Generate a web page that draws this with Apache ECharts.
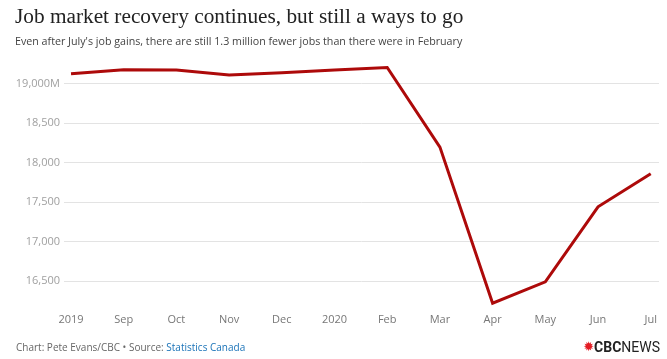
<!DOCTYPE html>
<html>
<head>
<meta charset="utf-8">
<script src="https://cdn.jsdelivr.net/npm/echarts@6/dist/echarts.min.js"></script>
<style>
html,body{margin:0;padding:0;background:#fff;}
#c{width:667px;height:359px;}
</style>
</head>
<body>
<div id="c"></div>
<script>
var categories = ['2019','Sep','Oct','Nov','Dec','2020','Feb','Mar','Apr','May','Jun','Jul'];
var employment = [19123,19173,19170,19106,19135,19170,19203,18195,16218,16490,17439,17857];
var yTicks = [16500,17000,17500,18000,18500,19000];

var chart = echarts.init(document.getElementById('c'), null, {renderer:'canvas'});
var pts = employment.map(function(v,i){return [i,v];});
chart.setOption({
  backgroundColor:'#ffffff',
  animation:false,
  title:[{
    text:'Job market recovery continues, but still a ways to go',
    left:10, top:2,
    textStyle:{fontFamily:'Liberation Serif',fontSize:21.3,fontWeight:'normal',color:'#222'}
  },{
    text:'Even after July\'s job gains, there are still 1.3 million fewer jobs than there were in February',
    left:10, top:31,
    textStyle:{fontFamily:'Open Sans',fontSize:10.7,fontWeight:'normal',color:'#444'}
  }],
  graphic:[{
    type:'text', left:16, top:343,
    style:{
      text:'{a|Chart: Pete Evans/CBC \u2022 Source: }{b|Statistics Canada}',
      rich:{
        a:{fontFamily:'Open Sans',fontSize:10,fill:'#666'},
        b:{fontFamily:'Open Sans',fontSize:10,fill:'#1a73b8'}
      }
    }
  },{
    type:'text', right:7, top:341,
    style:{
      text:'{g|\u2739}{c|CBC}{n|NEWS}',
      rich:{
        g:{fontFamily:'DejaVu Sans',fontSize:13,fill:'#e31b23'},
        c:{fontFamily:'Roboto',fontSize:14,fontWeight:'bold',fill:'#222'},
        n:{fontFamily:'Roboto',fontSize:14,fill:'#222'}
      }
    }
  }],
  grid:{left:64,right:8,top:60,bottom:51},
  xAxis:{
    type:'value',
    min:-0.133, max:11.157,
    minInterval:1, maxInterval:1,
    axisLine:{show:false},
    axisTick:{show:false},
    splitLine:{show:false},
    axisLabel:{
      showMinLabel:false, showMaxLabel:false,
      margin:6,
      fontFamily:'Open Sans',fontSize:11,color:'#777',
      formatter:function(v){
        var i=Math.round(v);
        return (Math.abs(v-i)<1e-6 && categories[i]!==undefined)?categories[i]:'';
      }
    }
  },
  yAxis:{
    type:'value',
    min:16158, max:19297,
    minInterval:500, maxInterval:500,
    axisLine:{show:false},
    axisTick:{show:false},
    splitLine:{show:true,showMinLine:false,showMaxLine:false,lineStyle:{color:'#e3e3e3',width:1}},
    axisLabel:{
      showMinLabel:false, showMaxLabel:false,
      margin:4,
      fontFamily:'Open Sans',fontSize:11,color:'#a0a0a0',
      formatter:function(v){
        if(yTicks.indexOf(v)<0) return '';
        var s=v.toLocaleString('en-US');
        return v===yTicks[yTicks.length-1]? s+'M' : s;
      }
    }
  },
  series:[{
    type:'line',
    data:pts,
    symbol:'none',
    lineStyle:{color:'#ad0a0a',width:3,join:'miter'},
    itemStyle:{color:'#ad0a0a'}
  }]
});
</script>
</body>
</html>
